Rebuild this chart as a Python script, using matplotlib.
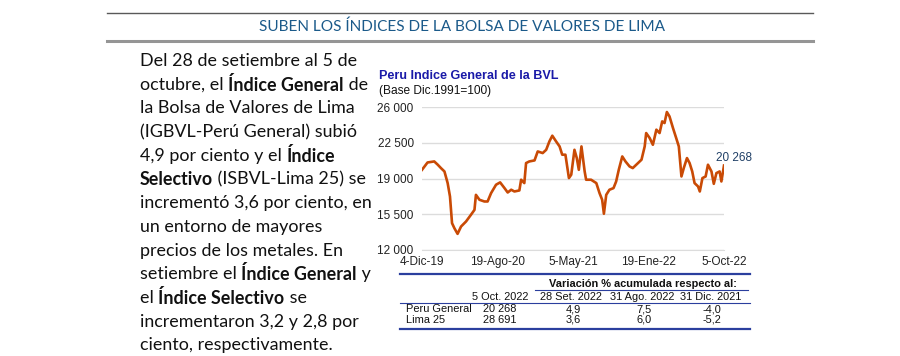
import matplotlib
matplotlib.use("Agg")
import matplotlib.pyplot as plt
from matplotlib.lines import Line2D
import pandas as pd

# ---------------- data ----------------
dates = ["2019-12-04", "2019-12-23", "2020-01-15", "2020-01-27", "2020-02-07", "2020-02-19",
         "2020-03-01", "2020-03-09", "2020-03-16", "2020-03-24", "2020-04-04", "2020-04-16",
         "2020-05-03", "2020-05-20", "2020-06-01", "2020-06-06", "2020-06-18", "2020-07-05",
         "2020-07-16", "2020-07-28", "2020-08-14", "2020-08-28", "2020-09-12", "2020-09-23",
         "2020-10-05", "2020-10-16", "2020-11-02", "2020-11-08", "2020-11-19", "2020-11-25",
         "2020-12-06", "2020-12-24", "2021-01-04", "2021-01-21", "2021-02-02", "2021-02-13",
         "2021-02-23", "2021-03-08", "2021-03-20", "2021-03-29", "2021-04-09", "2021-04-21",
         "2021-04-29", "2021-05-10", "2021-05-18", "2021-05-25", "2021-06-03", "2021-06-14",
         "2021-06-19", "2021-07-06", "2021-07-24", "2021-08-04", "2021-08-13", "2021-08-19",
         "2021-08-27", "2021-09-07", "2021-09-21", "2021-09-30", "2021-10-09", "2021-10-21",
         "2021-11-01", "2021-11-15", "2021-11-26", "2021-12-14", "2021-12-26", "2022-01-06",
         "2022-01-11", "2022-01-23", "2022-02-03", "2022-02-15", "2022-02-26", "2022-03-07",
         "2022-03-15", "2022-03-23", "2022-04-01", "2022-04-13", "2022-04-24", "2022-05-03",
         "2022-05-12", "2022-05-20", "2022-05-31", "2022-06-09", "2022-06-18", "2022-06-26",
         "2022-07-08", "2022-07-14", "2022-07-23", "2022-08-03", "2022-08-11", "2022-08-23",
         "2022-08-31", "2022-09-09", "2022-09-20", "2022-09-26", "2022-10-05"]
igbvl = [19850, 20570, 20670, 20350, 20020, 19690,
         18550, 17240, 14630, 14140, 13580, 14300,
         14790, 15450, 15930, 17400, 16920, 16750,
         16750, 17570, 18390, 18620, 18060, 17630,
         17900, 17730, 17830, 18880, 18550, 20510,
         20670, 20770, 21650, 21490, 21810, 22630,
         23190, 22630, 22140, 21330, 21330, 19040,
         19370, 21810, 21000, 19850, 22140, 19690,
         18880, 18880, 18550, 17570, 16920, 15550,
         17400, 17900, 18060, 18710, 19850, 21160,
         20670, 20180, 20020, 20510, 20840, 22140,
         23450, 22960, 22300, 23780, 23450, 24590,
         24430, 25510, 25080, 23940, 22960, 22140,
         19200, 20020, 21000, 20510, 19690, 18550,
         18220, 17730, 19040, 19200, 20350, 19690,
         18480, 19530, 19690, 18710, 20268]

y_ticks = [12000, 15500, 19000, 22500, 26000]
x_tick_dates = ["2019-12-04", "2020-08-19", "2021-05-05", "2022-01-19", "2022-10-05"]
x_tick_labels = ["4-Dic-19", "19-Ago-20", "5-May-21", "19-Ene-22", "5-Oct-22"]
last_label = "20 268"

tbl_cols = ["5 Oct. 2022", "28 Set. 2022", "31 Ago. 2022", "31 Dic. 2021"]
tbl_rows = ["Peru General", "Lima 25"]
tbl_vals = [["20 268", "4,9", "7,5", "-4,0"],
            ["28 691", "3,6", "6,0", "-5,2"]]

header = "SUBEN LOS ÍNDICES DE LA BOLSA DE VALORES DE LIMA"
paragraph = [
    [("Del 28 de setiembre al 5 de", False)],
    [("octubre, el ", False), ("Índice General", True), (" de", False)],
    [("la Bolsa de Valores de Lima", False)],
    [("(IGBVL-Perú General) subió", False)],
    [("4,9 por ciento y el ", False), ("Índice", True)],
    [("Selectivo", True), (" (ISBVL-Lima 25) se", False)],
    [("incrementó 3,6 por ciento, en", False)],
    [("un entorno de mayores", False)],
    [("precios de los metales. En", False)],
    [("setiembre el ", False), ("Índice General", True), (" y", False)],
    [("el ", False), ("Índice Selectivo", True), (" se", False)],
    [("incrementaron 3,2 y 2,8 por", False)],
    [("ciento, respectivamente.", False)],
]

# ---------------- figure ----------------
W, H = 900, 356
fig = plt.figure(figsize=(W / 100, H / 100), dpi=100)
fig.patch.set_facecolor("white")

def fx(px):
    return px / W

def fy(py):
    return 1 - py / H

# header lines & title
fig.add_artist(Line2D([fx(107), fx(813)], [fy(13.3), fy(13.3)], color="#595959", lw=1.0))
fig.add_artist(Line2D([fx(107), fx(813)], [fy(41), fy(41)], color="#959595", lw=2.2))
fig.text(fx(462), fy(27), header, ha="center", va="center", fontsize=11.1,
         family="Lato", color="#1b5a8a")

# paragraph with mixed bold
fig.canvas.draw()
renderer = fig.canvas.get_renderer()
x0 = 140
for i, segs in enumerate(paragraph):
    yc = 61 + i * 23.7
    xcur = x0
    for txt, bold in segs:
        t = fig.text(fx(xcur), fy(yc), txt, ha="left", va="center", fontsize=12.9,
                     family="Lato", fontweight="bold" if bold else "normal", color="#111111")
        bb = t.get_window_extent(renderer)
        xcur = xcur + bb.width

# chart
left, right, top, bottom = 422, 724, 107, 250
ax = fig.add_axes([fx(left), fy(bottom), fx(right) - fx(left), fy(top) - fy(bottom)])
d = pd.to_datetime(dates)
ax.plot(d, igbvl, color="#c94a05", lw=1.9, solid_joinstyle="round", zorder=3)
ax.set_xlim(pd.Timestamp(dates[0]), pd.Timestamp(dates[-1]))
ax.set_ylim(y_ticks[0], y_ticks[-1])
ax.set_yticks(y_ticks)
ax.set_yticklabels([f"{v:,}".replace(",", " ") for v in y_ticks])
ax.set_xticks(pd.to_datetime(x_tick_dates))
ax.set_xticklabels(x_tick_labels)
ax.grid(axis="y", color="#dcdcdc", lw=1.0)
ax.set_axisbelow(True)
for s in ["top", "right", "left"]:
    ax.spines[s].set_visible(False)
ax.spines["bottom"].set_color("#dcdcdc")
ax.tick_params(axis="both", length=0, labelsize=8.5, colors="#222222", pad=6)
ax.tick_params(axis="x", pad=4)
for lab in ax.get_xticklabels() + ax.get_yticklabels():
    lab.set_family("Liberation Sans")
ax.annotate(last_label, xy=(d[-1], igbvl[-1]), xytext=(-6, 1), textcoords="offset points",
            ha="left", va="bottom", fontsize=8.5, color="#1f3f66", family="Liberation Sans")
ax.patch.set_alpha(0)

fig.text(fx(379), fy(76), "Peru Indice General de la BVL", ha="left", va="center",
         fontsize=9.1, fontweight="bold", color="#1a1aa8", family="Liberation Sans")
fig.text(fx(379), fy(91), "(Base Dic.1991=100)", ha="left", va="center",
         fontsize=8.6, color="#111111", family="Liberation Sans")

# table
blue = "#2b3f9e"
fs_t = 7.9
fig.add_artist(Line2D([fx(400), fx(750)], [fy(274), fy(274)], color=blue, lw=1.6))
fig.text(fx(643), fy(284), "Variación % acumulada respecto al:", ha="center", va="center",
         fontsize=fs_t, fontweight="bold", color="#111111", family="Liberation Sans")
fig.add_artist(Line2D([fx(535), fx(748)], [fy(290), fy(290)], color=blue, lw=0.8))
col_x = [500, 571, 642, 711]
for cx, c in zip(col_x, tbl_cols):
    fig.text(fx(cx), fy(297), c, ha="center", va="center", fontsize=fs_t,
             color="#111111", family="Liberation Sans")
fig.add_artist(Line2D([fx(400), fx(750)], [fy(303), fy(303)], color=blue, lw=0.8))
row_y = [309, 320]
val_x = [500, 573, 644, 712]
for ry, rname, vals in zip(row_y, tbl_rows, tbl_vals):
    fig.text(fx(406), fy(ry), rname, ha="left", va="center", fontsize=fs_t,
             color="#111111", family="Liberation Sans")
    for vx, v in zip(val_x, vals):
        fig.text(fx(vx), fy(ry), v, ha="center", va="center", fontsize=fs_t,
                 color="#111111", family="Liberation Sans")
fig.add_artist(Line2D([fx(400), fx(750)], [fy(329), fy(329)], color=blue, lw=1.6))

fig.savefig("out.png", dpi=100, facecolor="white")
